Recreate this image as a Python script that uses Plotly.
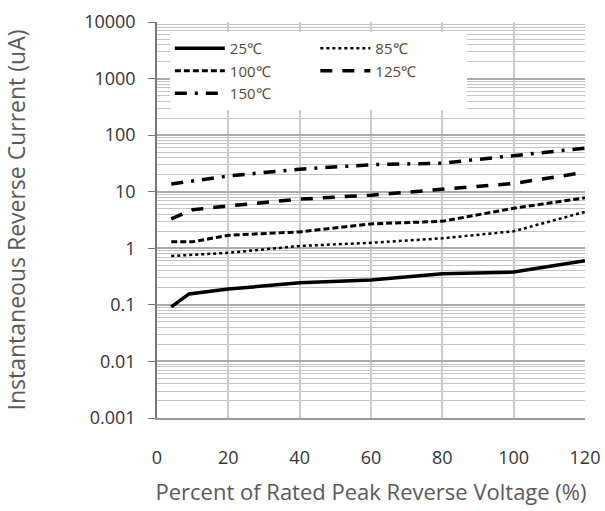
import plotly.graph_objects as go

x_25 = [4, 9, 20, 40, 60, 80, 100, 120]
y_25 = [0.092, 0.156, 0.19, 0.245, 0.275, 0.355, 0.38, 0.6]

x_85 = [4, 20, 40, 60, 80, 100, 120]
y_85 = [0.73, 0.83, 1.1, 1.25, 1.5, 2.0, 4.4]

x_100 = [4, 10, 20, 40, 60, 80, 100, 120]
y_100 = [1.3, 1.3, 1.7, 1.95, 2.7, 3.0, 5.1, 7.8]

x_125 = [4, 10, 20, 40, 60, 80, 100, 120]
y_125 = [3.3, 4.8, 5.6, 7.4, 8.7, 11, 14, 22]

x_150 = [4, 20, 40, 60, 80, 100, 120]
y_150 = [13.7, 19, 25, 30, 32, 43, 59]

y_tickvals = [0.001, 0.01, 0.1, 1, 10, 100, 1000, 10000]
y_ticktext = ["0.001", "0.01", "0.1", "1", "10", "100", "1000", "10000"]
x_tickvals = [0, 20, 40, 60, 80, 100, 120]

series = [
    ("25℃", x_25, y_25, "solid", 3.5),
    ("85℃", x_85, y_85, "dot", 2.5),
    ("100℃", x_100, y_100, "6px,3px", 3),
    ("125℃", x_125, y_125, "12px,10px", 3.5),
    ("150℃", x_150, y_150, "12px,8px,3px,8px", 3.5),
]

fig = go.Figure()
for name, xs, ys, dash, w in series:
    fig.add_trace(go.Scatter(x=xs, y=ys, mode="lines", name=name,
                             line=dict(color="black", width=w, dash=dash)))

minor_vals = [k * 10 ** e for e in range(-3, 4) for k in range(2, 10)]

fig.update_layout(
    width=605, height=511,
    margin=dict(l=157, r=20, t=22, b=93, autoexpand=False),
    paper_bgcolor="white", plot_bgcolor="white",
    font=dict(family="Open Sans", size=18, color="#333"),
    showlegend=True,
    legend=dict(
        orientation="h", x=0.03, y=0.975, xanchor="left", yanchor="top",
        entrywidth=0.34, entrywidthmode="fraction",
        bgcolor="white", font=dict(size=15, color="#5a4a30"),
        itemwidth=50, tracegroupgap=0,
    ),
    xaxis=dict(
        range=[0, 120], tickvals=x_tickvals, showgrid=True,
        gridcolor="#cccccc", gridwidth=1.5,
        showline=True, linecolor="#999", linewidth=1.5,
        ticks="", ticklabelstandoff=23, automargin=False,
        title=dict(text="Percent of Rated Peak Reverse Voltage (%)",
                   font=dict(size=22, color="#595959"), standoff=16),
        zeroline=False,
    ),
    yaxis=dict(
        type="log", range=[-3, 4], tickmode="array",
        tickvals=y_tickvals, ticktext=y_ticktext,
        showgrid=True, gridcolor="#aaaaaa", gridwidth=2,
        showline=True, linecolor="#777", linewidth=1.5,
        ticks="outside", ticklen=7, tickcolor="#777",
        ticklabelstandoff=9, automargin=False,
        minor=dict(tickmode="array", tickvals=minor_vals, showgrid=True,
                   gridcolor="#c4c4c4", gridwidth=1.2, ticks=""),
        title=dict(text="Instantaneous Reverse Current (uA)",
                   font=dict(size=23, color="#595959"), standoff=54),
    ),
)

fig.write_html("out.html")
